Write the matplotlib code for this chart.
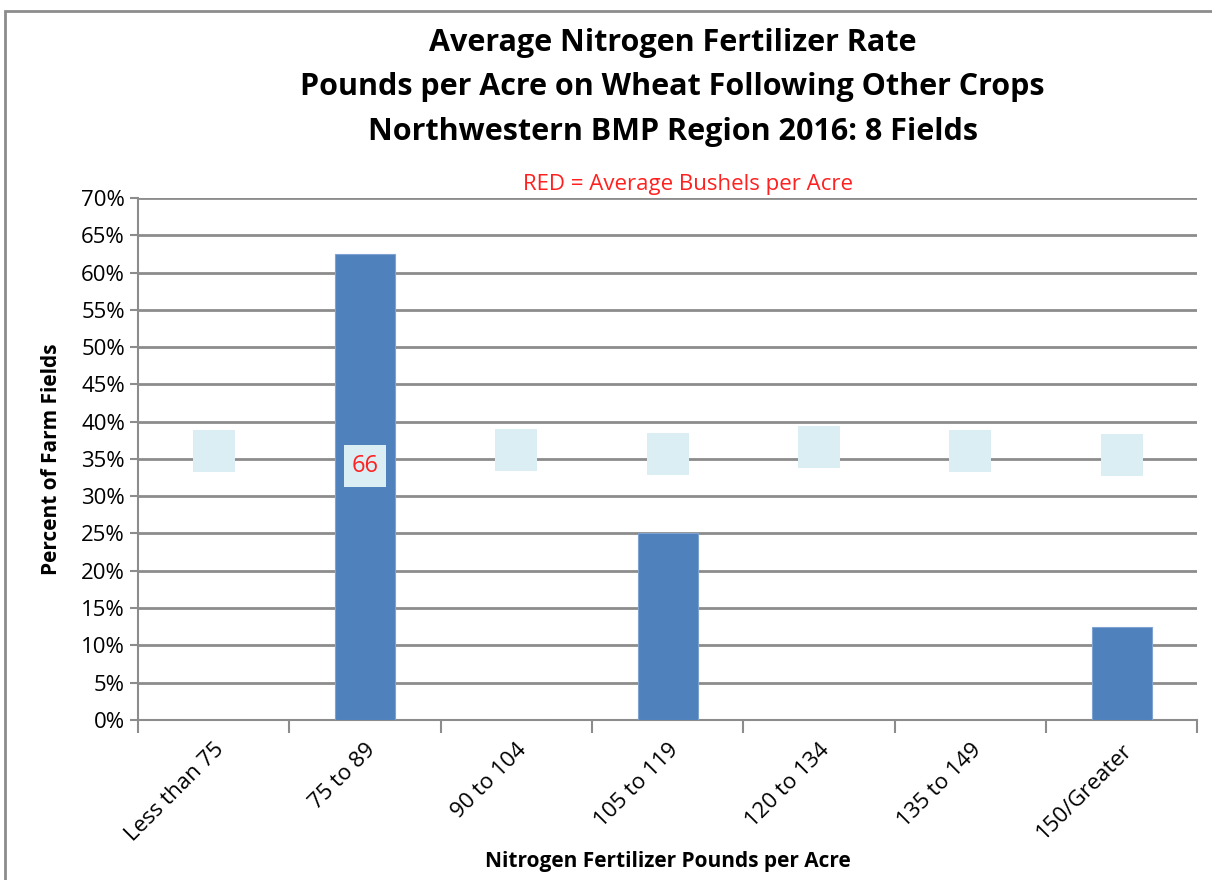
import numpy as np
import matplotlib
matplotlib.use('Agg')
import matplotlib.pyplot as plt
from matplotlib.patches import Rectangle
from matplotlib.ticker import FuncFormatter, MultipleLocator

categories = ['Less than 75', '75 to 89', '90 to 104', '105 to 119',
              '120 to 134', '135 to 149', '150/Greater']
pct_fields = [0, 62.5, 0, 25, 0, 0, 12.5]
# average yield label per class (blank where no fields)
yield_labels = ['', '66', '', '', '', '', '']
yield_label_y = [36.0, 34.1, 36.2, 35.7, 36.6, 36.0, 35.5]

plt.rcParams['font.family'] = ['Open Sans', 'DejaVu Sans']

fig = plt.figure(figsize=(12.12, 8.8), dpi=100)
ax = fig.add_axes([0.114, 0.182, 0.874, 0.593])

x = np.arange(len(categories))
ax.bar(x, pct_fields, width=0.4, color='#4F81BD', edgecolor='#7FA3D0', linewidth=0.8, zorder=3)

# light blue label boxes with the yield values
ax.scatter(x, yield_label_y, marker='s', s=900, color='#DAEEF3', zorder=4, linewidths=0)
for xi, yi, lab in zip(x, yield_label_y, yield_labels):
    if lab:
        ax.text(xi, yi, lab, color='#FF2020', fontsize=17, ha='center', va='center', zorder=5)

ax.set_xlim(-0.5, len(categories) - 0.5)
ax.set_ylim(0, 70)
ax.yaxis.set_major_locator(MultipleLocator(5))
ax.yaxis.set_major_formatter(FuncFormatter(lambda v, p: f'{v:.0f}%'))
ax.grid(axis='y', color='#8C8C8C', linewidth=2, zorder=0)
ax.set_axisbelow(True)

ax.set_xticks(x)
ax.set_xticklabels(categories, rotation=45, ha='right', rotation_mode='anchor', fontsize=16)
ax.tick_params(axis='x', length=0, pad=14)
ax.set_xticks(np.arange(-0.5, len(categories)), minor=True)
ax.tick_params(axis='x', which='minor', length=9, width=1.5, color='#8C8C8C', direction='out')
ax.tick_params(axis='y', labelsize=16, length=6, width=1.5, color='#8C8C8C')

for side in ['top', 'right']:
    ax.spines[side].set_visible(False)
for side in ['left', 'bottom']:
    ax.spines[side].set_color('#8C8C8C')
    ax.spines[side].set_linewidth(1.5)

ax.set_ylabel('Percent of Farm Fields', fontsize=15, fontweight='bold', labelpad=14)
ax.set_xlabel('Nitrogen Fertilizer Pounds per Acre', fontsize=15, fontweight='bold', labelpad=4)

fig.text(0.555, 0.968, 'Average Nitrogen Fertilizer Rate\nPounds per Acre on Wheat Following Other Crops\nNorthwestern BMP Region 2016: 8 Fields',
         ha='center', va='top', fontsize=22, fontweight='bold', linespacing=1.62)
fig.text(0.568, 0.79, 'RED = Average Bushels per Acre', color='#FF2020', fontsize=16,
         ha='center', va='center')

# chart area border
fig.add_artist(Rectangle((0.004, -0.1), 1.2, 1.0875, transform=fig.transFigure,
                         fill=False, edgecolor='#8C8C8C', linewidth=2))

fig.savefig('out.png', dpi=100)
